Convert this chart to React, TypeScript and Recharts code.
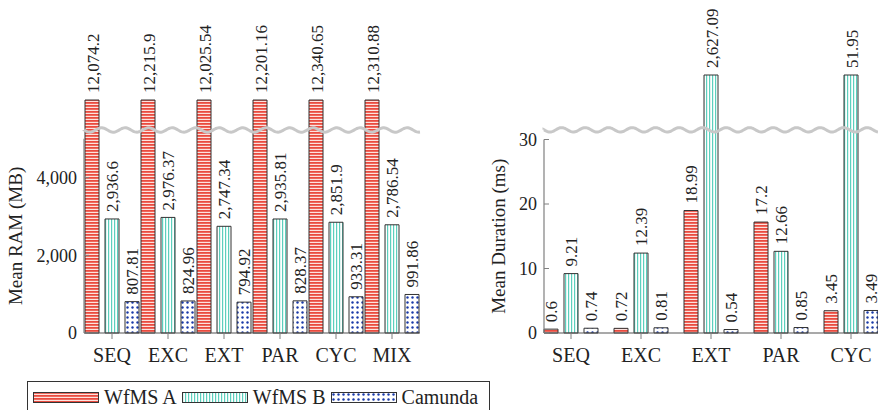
import { BarChart, Bar, XAxis, YAxis, ReferenceLine, LabelList } from 'recharts';

const ramCategories = ['SEQ', 'EXC', 'EXT', 'PAR', 'CYC', 'MIX'];
const ramWfmsA = [12074.2, 12215.9, 12025.54, 12201.16, 12340.65, 12310.88];
const ramWfmsB = [2936.6, 2976.37, 2747.34, 2935.81, 2851.9, 2786.54];
const ramCamunda = [807.81, 824.96, 794.92, 828.37, 933.31, 991.86];
const ramTicks = [0, 2000, 4000];

const durCategories = ['SEQ', 'EXC', 'EXT', 'PAR', 'CYC'];
const durWfmsA = [0.6, 0.72, 18.99, 17.2, 3.45];
const durWfmsB = [9.21, 12.39, 2627.09, 12.66, 51.95];
const durCamunda = [0.74, 0.81, 0.54, 0.85, 3.49];
const durTicks = [0, 10, 20, 30];

const seriesNames = ['WfMS A', 'WfMS B', 'Camunda'];
const fills = ['url(#patA)', 'url(#patB)', 'url(#patC)'];

const PLOT_BOTTOM = 333;
const XAXIS_H = 50;
const TEXT = '#222';
const AXIS = '#808080';
const FONT = "'Liberation Serif', 'Times New Roman', Times, 'DejaVu Serif', serif";

const fmt = (v: number) => Number(v).toLocaleString('en-US', { maximumFractionDigits: 2 });

const valueLabel = (props: any) => {
  const vb = props.viewBox ?? {};
  const x = Number(props.x ?? vb.x);
  const y = Number(props.y ?? vb.y);
  const w = Number(props.width ?? vb.width);
  const cx = x + w / 2 + 1;
  const ty = y - 7;
  return (
    <text x={cx} y={ty} transform={`rotate(-90 ${cx} ${ty})`} textAnchor="start"
      dominantBaseline="central" fontSize={17} fill={TEXT} fontFamily={FONT}>
      {fmt(props.value)}
    </text>
  );
};

// wavy "axis break" line, drawn across the plot by a ReferenceLine
const wave = (p: any) => {
  const x1 = Number(p.x1), x2 = Number(p.x2), y = Number(p.y1);
  let d = `M${x1},${y}`;
  for (let x = x1; x <= x2; x += 1) {
    d += ` L${x},${(y + 2.2 * Math.sin(((x - x1) / 23.5) * Math.PI * 2)).toFixed(2)}`;
  }
  return <path d={d} fill="none" stroke="#c8c8c8" strokeWidth={3} />;
};

type PanelProps = {
  title: string; categories: string[]; a: number[]; b: number[]; c: number[];
  ticks: number[]; axisMax: number; top: number; wave: number;
  left: number; width: number; right: number; marginTop: number; pad: number; titleX: number;
};

function Panel(p: PanelProps) {
  const clip = (v: number) => (v > p.axisMax ? p.top : v);
  const rows = p.categories.map((cat, i) => ({
    cat, a: p.a[i], b: p.b[i], c: p.c[i], aD: clip(p.a[i]), bD: clip(p.b[i]), cD: clip(p.c[i]),
  }));
  const plotH = PLOT_BOTTOM - p.marginTop;
  const gap = (plotH * (p.top - p.axisMax)) / p.top;

  const title = (lp: any) => {
    const vb = lp.viewBox;
    const yTop = vb.y + gap;
    const cy = (yTop + vb.y + vb.height) / 2;
    const cx = vb.x + p.titleX;
    return (
      <text x={cx} y={cy} transform={`rotate(-90 ${cx} ${cy})`} textAnchor="middle"
        dominantBaseline="central" fontSize={19} fill={TEXT} fontFamily={FONT}>{p.title}</text>
    );
  };

  return (
    <div style={{ position: 'absolute', left: p.left, top: 0 }}>
      <BarChart width={p.width} height={PLOT_BOTTOM + XAXIS_H} data={rows}
        margin={{ top: p.marginTop, right: p.right, left: 0, bottom: 0 }} barSize={14} barGap={6}>
        <XAxis dataKey="cat" interval={0} height={XAXIS_H} padding={{ left: p.pad, right: p.pad }}
          axisLine={{ stroke: '#555', strokeWidth: 1.2 }} tickLine={{ stroke: AXIS }}
          tickSize={6} tickMargin={9} tick={{ fill: TEXT, fontSize: 20, fontFamily: FONT }} />
        <YAxis width={84} domain={[0, p.top]} ticks={p.ticks} interval={0}
          tickFormatter={(v: number) => fmt(v)}
          axisLine={{ stroke: AXIS, strokeWidth: 1.2, strokeDasharray: `0 ${gap} 2000` }}
          tickLine={{ stroke: AXIS }} tickSize={-5} tickMargin={12}
          tick={{ fill: TEXT, fontSize: 18, fontFamily: FONT }} label={{ content: title }} />
        <Bar dataKey="aD" name={seriesNames[0]} fill={fills[0]} stroke="#333" strokeWidth={1} isAnimationActive={false}>
          <LabelList dataKey="a" content={valueLabel} />
        </Bar>
        <Bar dataKey="bD" name={seriesNames[1]} fill={fills[1]} stroke="#333" strokeWidth={1} isAnimationActive={false}>
          <LabelList dataKey="b" content={valueLabel} />
        </Bar>
        <Bar dataKey="cD" name={seriesNames[2]} fill={fills[2]} stroke="#333" strokeWidth={1} isAnimationActive={false}>
          <LabelList dataKey="c" content={valueLabel} />
        </Bar>
        <ReferenceLine y={p.wave} shape={wave} />
      </BarChart>
    </div>
  );
}

function Patterns() {
  return (
    <svg width={0} height={0} style={{ position: 'absolute' }}>
      <defs>
        <pattern id="patA" patternUnits="userSpaceOnUse" width={4} height={3}>
          <rect width={4} height={3} fill="#fde2de" />
          <rect width={4} height={1.8} fill="#ea4b3f" />
        </pattern>
        <pattern id="patB" patternUnits="userSpaceOnUse" width={3} height={4}>
          <rect width={3} height={4} fill="#ffffff" />
          <rect width={1.2} height={4} fill="#5ccfbd" />
        </pattern>
        <pattern id="patC" patternUnits="userSpaceOnUse" width={5} height={5}>
          <rect width={5} height={5} fill="#ffffff" />
          <circle cx={2.5} cy={2.5} r={1.2} fill="#1a3aa8" />
        </pattern>
      </defs>
    </svg>
  );
}

export default function App() {
  return (
    <div style={{
      position: 'absolute', left: 0, top: 0, width: 878, height: 410, overflow: 'hidden',
      background: '#fff', fontFamily: FONT, color: TEXT,
    }}>
      <Patterns />
      <Panel title="Mean RAM (MB)" categories={ramCategories} a={ramWfmsA} b={ramWfmsB} c={ramCamunda}
        ticks={ramTicks} axisMax={5000} top={6000} wave={5228}
        left={0} width={440} right={20} marginTop={100} pad={0} titleX={16} />
      <Panel title="Mean Duration (ms)" categories={durCategories} a={durWfmsA} b={durWfmsB} c={durCamunda}
        ticks={durTicks} axisMax={30} top={40} wave={31.5}
        left={460} width={418} right={0} marginTop={75} pad={-8} titleX={38} />
      <div style={{
        position: 'absolute', left: 27, top: 381, border: '1px solid #333', fontFamily: FONT,
        display: 'flex', alignItems: 'center', padding: '4px 6px 8px 5px', whiteSpace: 'nowrap',
      }}>
        {seriesNames.map((n, i) => (
          <div key={n} style={{ display: 'flex', alignItems: 'center', marginRight: 5 }}>
            <svg width={66} height={11} style={{ display: 'block' }}>
              <rect x={0.5} y={0.5} width={65} height={10} fill={fills[i]} stroke="#333" />
            </svg>
            <span style={{ marginLeft: 5, fontSize: 20 }}>{n}</span>
          </div>
        ))}
      </div>
    </div>
  );
}
